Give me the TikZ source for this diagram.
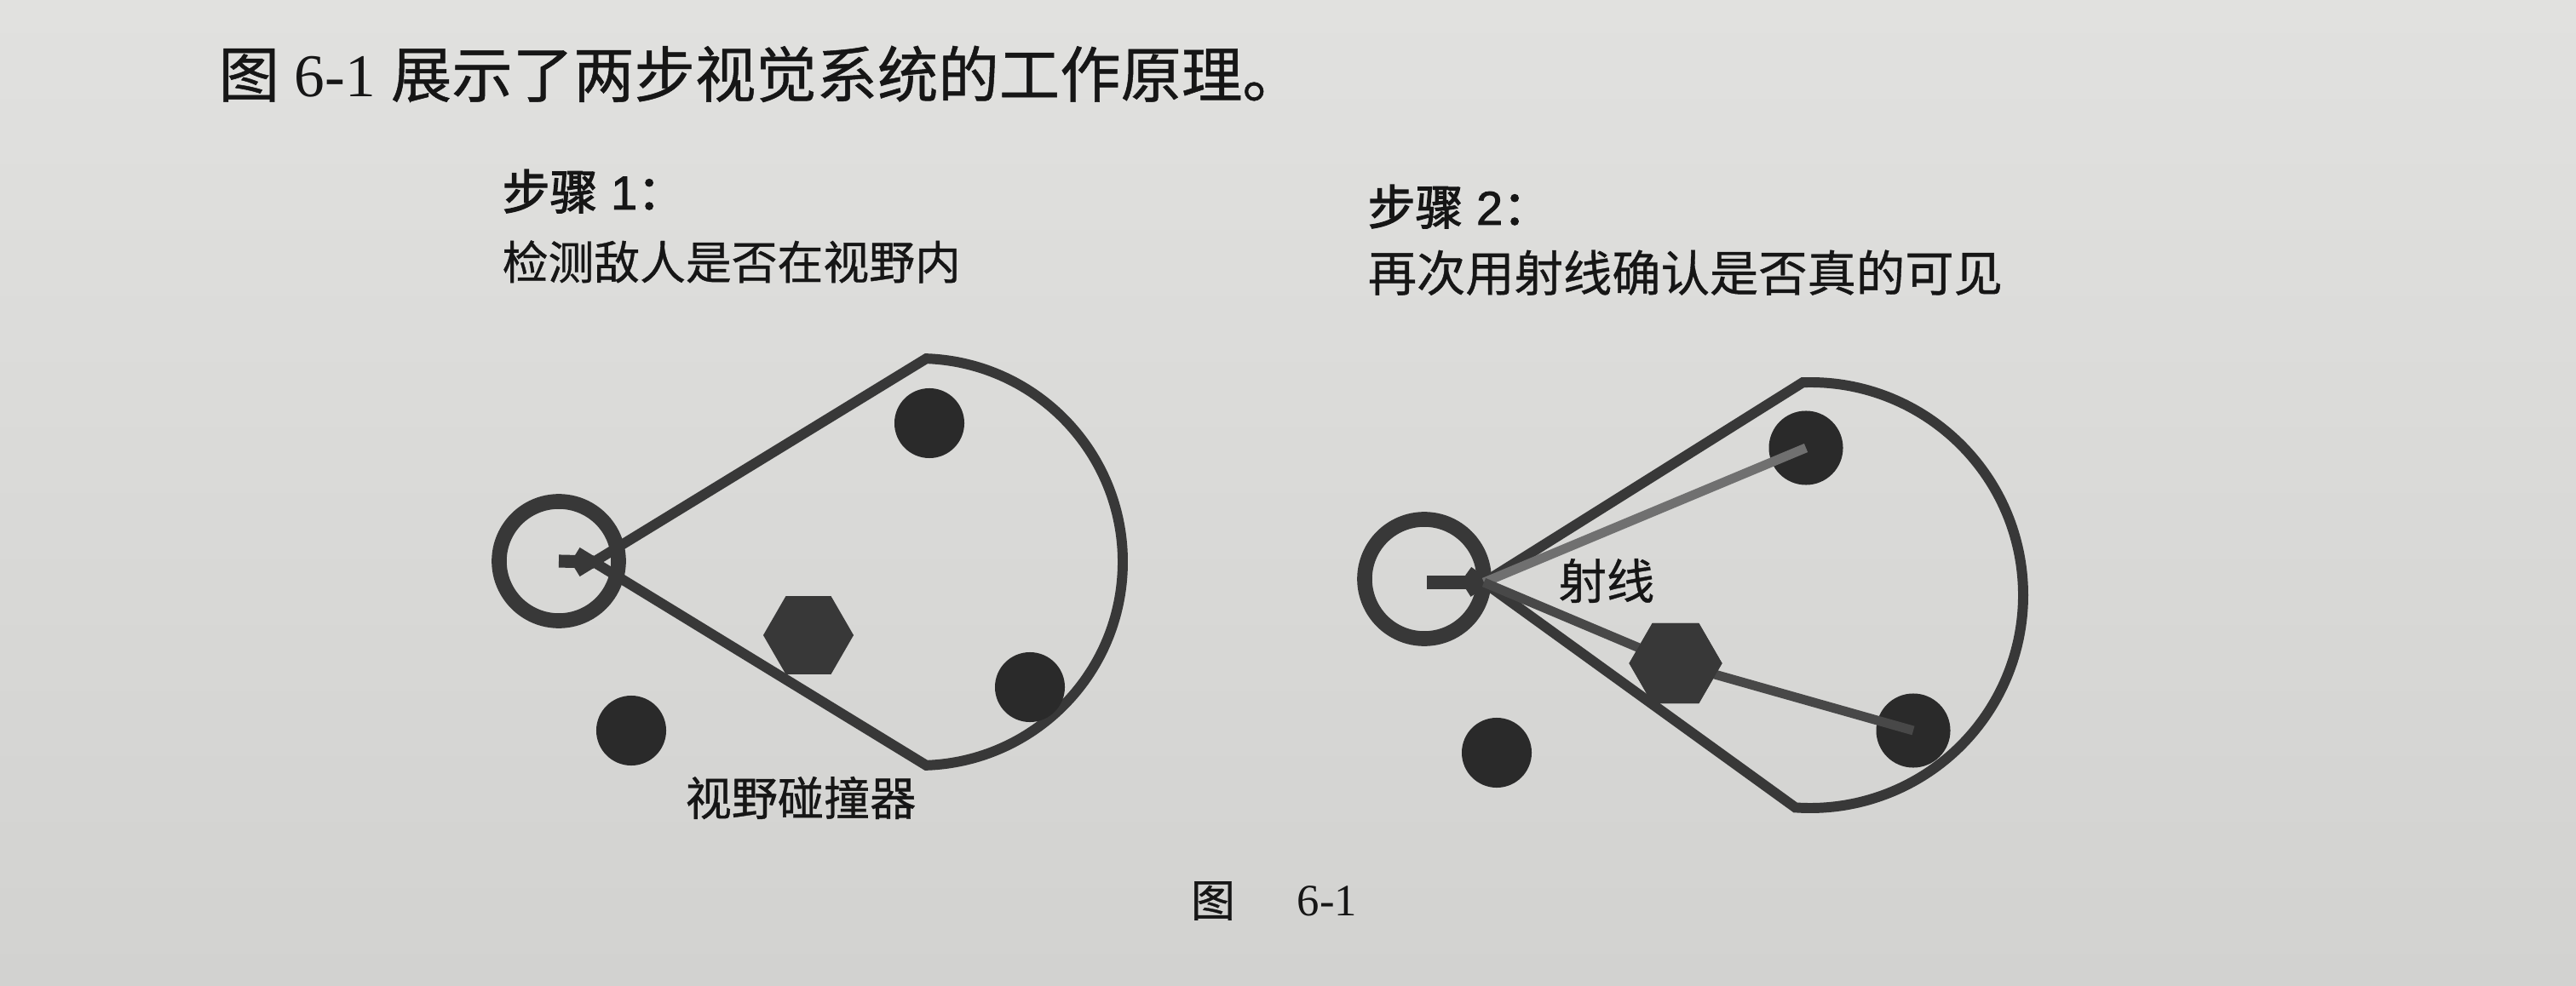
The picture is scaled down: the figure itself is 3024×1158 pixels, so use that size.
\documentclass[tikz,border=0pt]{standalone}
\usepackage{fontspec}
\setmainfont{Liberation Serif}
\newfontfamily\cjk[FakeBold=0.7]{Noto Sans CJK SC}
\newfontfamily\cjkb[FakeBold=2.2]{Noto Sans CJK SC}
\newfontfamily\sansb[FakeBold=1.5]{Liberation Sans}
\usetikzlibrary{shapes.geometric,calc}
\definecolor{paperTop}{RGB}{225,225,223}
\definecolor{paperBot}{RGB}{210,210,208}
\definecolor{ink}{RGB}{56,56,56}
\definecolor{dotink}{RGB}{42,42,42}
\definecolor{txt}{RGB}{22,22,22}
\definecolor{raylight}{RGB}{112,112,112}
\definecolor{raydark}{RGB}{72,72,72}
\begin{document}
\begin{tikzpicture}[x=0.01cm,y=-0.01cm,
  dot/.style={circle,fill=dotink,inner sep=0pt,minimum size=0.82cm},
  hexa/.style={regular polygon,regular polygon sides=6,fill=ink,inner sep=0pt,minimum size=1.06cm},
  ring/.style={circle,draw=ink,line width=5pt,inner sep=0pt,minimum size=1.40cm},
  cone/.style={draw=ink,line width=3.4pt,line join=miter},
  bar/.style={draw=ink,line width=4.3pt},
  rayA/.style={draw=raylight,line width=3.1pt},
  rayB/.style={draw=raydark,line width=3.1pt},
  lbl/.style={inner sep=0pt,text=txt}]
% background / bounding box
\shade[top color=paperTop,bottom color=paperBot] (0,0) rectangle (3024,1158);
\useasboundingbox (0,0) rectangle (3024,1158);

% ---- texts ----
\node[lbl,anchor=base west] (title) at (256,114)
  {\fontsize{20.3pt}{22pt}\selectfont\cjk 图\rmfamily{} 6-1 \cjk 展示了两步视觉系统的工作原理。};
\node[lbl,anchor=base west] (s1h) at (589,246)
  {\fontsize{15.9pt}{18pt}\selectfont\cjkb 步骤\sansb{} 1\cjkb ：};
\node[lbl,anchor=base west] (s1b) at (589,328)
  {\fontsize{15.3pt}{18pt}\selectfont\cjk 检测敌人是否在视野内};
\node[lbl,anchor=base west] (s2h) at (1605,264)
  {\fontsize{15.9pt}{18pt}\selectfont\cjkb 步骤\sansb{} 2\cjkb ：};
\node[lbl,anchor=base west] (s2b) at (1605,342)
  {\fontsize{16.3pt}{18pt}\selectfont\cjk 再次用射线确认是否真的可见};

% ---- left diagram ----
\coordinate (cL) at (1079,660);
\coordinate (uL) at ($(cL)+(-88:239)$);
\coordinate (lL) at ($(cL)+(88:239)$);
\coordinate (aL) at (697,660);
\node[ring] (agentL) at (656,659) {};
\draw[bar] (agentL.center) -- (aL);
\draw[cone] ($(uL)!1.05!(aL)$) -- (uL) arc[start angle=-88,end angle=88,radius=239] -- ($(lL)!1.05!(aL)$);
\node[dot] (e1L) at (1091,497) {};
\node[dot] (e2L) at (1209,807) {};
\node[dot] (e3L) at (741,858) {};
\node[hexa] (hL) at (949,746) {};
\node[lbl] (colL) at (940,937) {\fontsize{15.4pt}{18pt}\selectfont\cjk 视野碰撞器};

% ---- right diagram ----
\coordinate (cR) at (2125,699);
\coordinate (uR) at ($(cR)+(-92:250)$);
\coordinate (lR) at ($(cR)+(94:250)$);
\coordinate (aR) at (1742,684);
\node[ring] (agentR) at (1672,680) {};
\draw[bar] (1675,684) -- (aR);
\draw[cone] ($(uR)!1.05!(aR)$) -- (uR) arc[start angle=-92,end angle=94,radius=250] -- ($(lR)!1.05!(aR)$);
\node[dot,minimum size=0.87cm] (e1R) at (2120,526) {};
\node[dot,minimum size=0.87cm] (e2R) at (2246,858) {};
\node[dot] (e3R) at (1757,884) {};
\node[hexa,minimum size=1.09cm] (hR) at (1967,779) {};
\draw[rayA] (aR) -- (e1R.center);
\draw[rayB] (aR) -- (hR.center);
\draw[rayB] (hR.center) -- (e2R.center);
\node[hexa,minimum size=1.09cm] at (hR.center) {};
\node[lbl] (rayL) at (1886,682) {\fontsize{16pt}{18pt}\selectfont\cjk 射线};

% ---- caption ----
\node[lbl] (capA) at (1424,1058) {\fontsize{14.8pt}{18pt}\selectfont\cjk 图};
\node[lbl,anchor=west] (capB) at (1522,1058) {\fontsize{15pt}{18pt}\selectfont 6-1};
\end{tikzpicture}
\end{document}
